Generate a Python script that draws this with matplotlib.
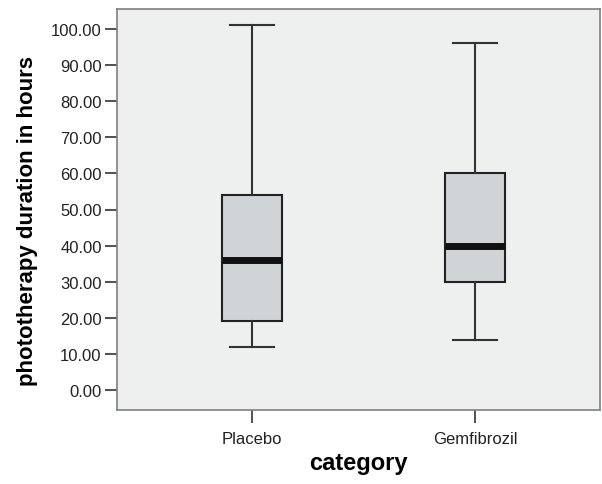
import matplotlib
matplotlib.use("Agg")
import matplotlib.pyplot as plt

categories = ["Placebo", "Gemfibrozil"]
whislo = [12, 14]
q1 = [19, 30]
med = [36, 40]
q3 = [54, 60]
whishi = [101, 96]
yticks = [0, 10, 20, 30, 40, 50, 60, 70, 80, 90, 100]

plt.rcParams['font.family'] = ['Liberation Sans', 'DejaVu Sans']

fig = plt.figure(figsize=(6.02, 4.85), dpi=100)
ax = fig.add_axes([117/602, 1 - 411/485, (600-117)/602, (411-10)/485])
ax.set_facecolor('#eef0ef')

stats = []
for i, c in enumerate(categories):
    stats.append(dict(label=c, whislo=whislo[i], q1=q1[i], med=med[i],
                      q3=q3[i], whishi=whishi[i], fliers=[]))

ax.bxp(stats, positions=[1, 2], widths=0.27, patch_artist=True,
       showfliers=False,
       boxprops=dict(facecolor='#d1d4d7', edgecolor='#222222', linewidth=1.5),
       whiskerprops=dict(color='#333333', linewidth=1.5),
       capprops=dict(color='#333333', linewidth=1.5),
       medianprops=dict(color='#111111', linewidth=5, solid_capstyle='butt'),
       capwidths=0.2)

ax.set_xlim(0.395, 2.56)
ax.set_ylim(-5.5, 105.5)
ax.set_yticks(yticks)
ax.set_yticklabels([f"{v:.2f}" for v in yticks])
ax.set_xticks([1, 2])
ax.set_xticklabels(categories)

for s in ax.spines.values():
    s.set_color('#808080')
    s.set_linewidth(1.2)

ax.tick_params(axis='y', direction='out', length=9, width=1.2, color='#333333',
               labelsize=12, labelcolor='#222222', pad=2)
ax.tick_params(axis='x', direction='out', length=9, width=1.2, color='#333333',
               labelsize=12, labelcolor='#222222', pad=6)

ax.set_ylabel("phototherapy duration in hours", fontsize=16, fontweight='bold')
ax.yaxis.set_label_coords(-0.163, 0.475)
ax.set_xlabel("category", fontsize=17, fontweight='bold', labelpad=4)

fig.savefig("out.png", dpi=100)
